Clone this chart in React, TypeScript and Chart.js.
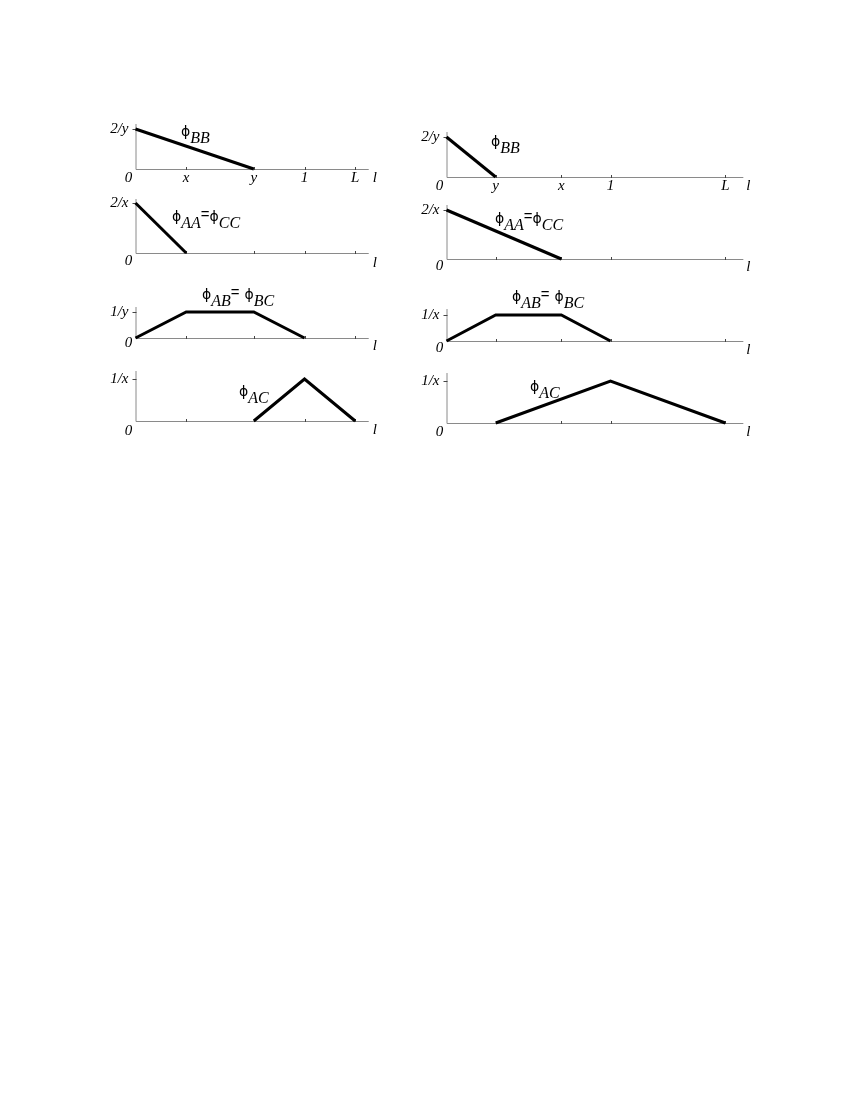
import React, { useEffect, useRef } from "react";
import { Chart, registerables } from "chart.js";

Chart.register(...registerables);

// ---------- data ----------
// Left column: 0 < x < y < 1 < L ; right column: 0 < y < x < 1 < L
const leftTickValues = [0, 0.3, 0.7, 1, 1.3];
const leftTickLabels = ["0", "x", "y", "1", "L"];
const rightTickValues = [0, 0.3, 0.7, 1, 1.7];
const rightTickLabels = ["0", "y", "x", "1", "L"];
const leftAxisEnd = 1.38;
const rightAxisEnd = 1.81;

// left column series
const leftBBx = [0, 0.7];
const leftBBy = [2.857, 0];
const leftAAx = [0, 0.3];
const leftAAy = [6.667, 0];
const leftABx = [0, 0.3, 0.7, 1];
const leftABy = [0, 1.429, 1.429, 0];
const leftACx = [0.7, 1, 1.3];
const leftACy = [0, 3.333, 0];

// right column series
const rightBBx = [0, 0.3];
const rightBBy = [6.667, 0];
const rightAAx = [0, 0.7];
const rightAAy = [2.857, 0];
const rightABx = [0, 0.3, 0.7, 1];
const rightABy = [0, 1.429, 1.429, 0];
const rightACx = [0.3, 1, 1.7];
const rightACy = [0, 1.429, 0];

// y tick (max) values and labels
const leftYTickValues = [2.857, 6.667, 1.429, 3.333];
const leftYTickLabels = ["2/y", "2/x", "1/y", "1/x"];
const rightYTickValues = [6.667, 2.857, 1.429, 1.429];
const rightYTickLabels = ["2/y", "2/x", "1/x", "1/x"];

// curve names (subscripts of phi)
const seriesNames = [["BB"], ["AA", "CC"], ["AB", "BC"], ["AC"]];

// ---------- layout ----------
type Col = { colLeft: number; colWidth: number; x0: number; unit: number; axisEnd: number; lDx: number };
const LEFT_COL: Col = { colLeft: 85, colWidth: 310, x0: 135.5, unit: 169, axisEnd: leftAxisEnd, lDx: 4 };
const RIGHT_COL: Col = { colLeft: 400, colWidth: 370, x0: 446.5, unit: 164, axisEnd: rightAxisEnd, lDx: 3 };

const leftBaselines = [169, 253, 338, 421];
const leftTickYs = [129, 203, 312, 379];
const leftTops = [124, 199, 307, 371];
const rightBaselines = [177, 259, 341, 423];
const rightTickYs = [137, 210, 315, 381];
const rightTops = [132, 205, 309, 373];

const leftZeroDy = [9, 8, 5, 10];
const leftLDy = [9, 10, 8, 9];
const rightZeroDy = [9, 7, 7, 9];
const rightLDy = [9, 8, 9, 9];

// label anchor: page x of first phi, page y of phi centre, gap before 2nd phi
const leftLabelPos = [
  [181, 132, 0],
  [172, 217, 0],
  [202, 295, 5],
  [239, 392, 0],
];
const rightLabelPos = [
  [491, 142, 0],
  [495, 219, 0],
  [512, 297, 5],
  [530, 387, 0],
];

type PanelProps = {
  col: Col;
  xs: number[];
  ys: number[];
  tickValues: number[];
  tickLabels: string[] | null;
  yTickValue: number;
  yTickLabel: string;
  baseline: number;
  tickY: number;
  top: number;
  zeroDy: number;
  lDy: number;
  names: string[];
  labelPos: number[];
};

const TICK_FONT = 'italic 15px "Liberation Serif", "DejaVu Serif", serif';
const PHI_FONT = '14px "DejaVu Sans", "Noto Sans", sans-serif';
const SUB_FONT = 'italic 16px "Liberation Serif", "DejaVu Serif", serif';
const EQ_FONT = '15px "Liberation Sans", "DejaVu Sans", sans-serif';

function Panel(p: PanelProps) {
  const ref = useRef<HTMLCanvasElement | null>(null);
  const padTop = 30;
  const padBottom = 30;
  const canvasTop = p.top - padTop;
  const canvasH = p.baseline - p.top + padTop + padBottom;
  const canvasW = p.col.colWidth;

  useEffect(() => {
    const canvas = ref.current;
    if (!canvas) return;
    const col = p.col;
    const xEndPx = col.x0 + col.axisEnd * col.unit;
    const padLeft = col.x0 - col.colLeft;
    const padRight = col.colLeft + col.colWidth - xEndPx;
    const yMax = (p.yTickValue * (p.baseline - p.top)) / (p.baseline - p.tickY);
    const ox = col.colLeft;
    const oy = canvasTop;

    const axisPlugin = {
      id: "axesAndLabels",
      beforeDatasetsDraw(chart: any) {
        const ctx = chart.ctx as CanvasRenderingContext2D;
        const xs = chart.scales.x;
        const ys = chart.scales.y;
        const X0 = xs.getPixelForValue(0);
        const XE = xs.getPixelForValue(col.axisEnd);
        const Y0 = ys.getPixelForValue(0);
        const YT = ys.getPixelForValue(yMax);
        const YK = ys.getPixelForValue(p.yTickValue);
        ctx.save();
        ctx.strokeStyle = "#8a8a8a";
        ctx.lineWidth = 1;
        ctx.beginPath();
        ctx.moveTo(X0 + 0.5, YT);
        ctx.lineTo(X0 + 0.5, Y0 + 0.5);
        ctx.lineTo(XE, Y0 + 0.5);
        ctx.stroke();
        // x ticks
        ctx.strokeStyle = "#444";
        ctx.beginPath();
        p.tickValues.forEach((v, i) => {
          if (i === 0) return;
          const px = Math.round(xs.getPixelForValue(v)) + 0.5;
          ctx.moveTo(px, Y0 - 2);
          ctx.lineTo(px, Y0 + 1);
        });
        // y tick
        const ty = Math.round(YK) + 0.5;
        ctx.moveTo(X0 - 3, ty);
        ctx.lineTo(X0 + 1, ty);
        ctx.stroke();

        // text
        ctx.fillStyle = "#000";
        ctx.font = TICK_FONT;
        ctx.textBaseline = "middle";
        ctx.textAlign = "center";
        ctx.fillText("0", X0 - 7, Y0 + p.zeroDy);
        if (p.tickLabels) {
          p.tickValues.forEach((v, i) => {
            if (i === 0) return;
            ctx.fillText(p.tickLabels![i], xs.getPixelForValue(v), Y0 + 9);
          });
        }
        ctx.textAlign = "left";
        ctx.fillText("l", XE + col.lDx, Y0 + p.lDy);
        ctx.textAlign = "right";
        ctx.fillText(p.yTickLabel, X0 - 7, YK);

        // phi label
        let lx = p.labelPos[0] - ox;
        const ly = p.labelPos[1] - oy;
        p.names.forEach((n, i) => {
          if (i > 0) {
            ctx.font = EQ_FONT;
            ctx.textAlign = "left";
            ctx.textBaseline = "middle";
            ctx.fillText("=", lx, ly - 2);
            lx += ctx.measureText("=").width + p.labelPos[2];
          }
          ctx.font = PHI_FONT;
          ctx.textAlign = "left";
          ctx.textBaseline = "middle";
          ctx.fillText("ϕ", lx, ly);
          lx += ctx.measureText("ϕ").width;
          ctx.font = SUB_FONT;
          ctx.textBaseline = "alphabetic";
          ctx.fillText(n, lx, ly + 11);
          lx += ctx.measureText(n).width;
        });
        ctx.restore();
      },
    };

    const chart = new Chart(canvas, {
      type: "line",
      data: {
        datasets: [
          {
            data: p.xs.map((x, i) => ({ x, y: p.ys[i] })),
            borderColor: "#000",
            borderWidth: 3,
            pointRadius: 0,
            tension: 0,
            borderJoinStyle: "miter",
            borderCapStyle: "butt",
            clip: false,
          } as any,
        ],
      },
      options: {
        responsive: false,
        animation: false,
        events: [],
        layout: { padding: { left: padLeft, right: padRight, top: padTop, bottom: padBottom } },
        plugins: { legend: { display: false }, tooltip: { enabled: false } },
        scales: {
          x: { type: "linear", min: 0, max: col.axisEnd, display: false },
          y: { type: "linear", min: 0, max: yMax, display: false },
        },
      },
      plugins: [axisPlugin],
    });
    return () => chart.destroy();
  }, []);

  return (
    <canvas
      ref={ref}
      width={canvasW}
      height={canvasH}
      style={{
        position: "absolute",
        left: p.col.colLeft,
        top: canvasTop,
        width: canvasW,
        height: canvasH,
      }}
    />
  );
}

export default function App() {
  const leftXs = [leftBBx, leftAAx, leftABx, leftACx];
  const leftYs = [leftBBy, leftAAy, leftABy, leftACy];
  const rightXs = [rightBBx, rightAAx, rightABx, rightACx];
  const rightYs = [rightBBy, rightAAy, rightABy, rightACy];
  return (
    <div style={{ position: "absolute", left: 0, top: 0, width: 850, height: 1100, background: "#fff" }}>
      {[0, 1, 2, 3].map((i) => (
        <Panel
          key={"l" + i}
          col={LEFT_COL}
          xs={leftXs[i]}
          ys={leftYs[i]}
          tickValues={leftTickValues}
          tickLabels={i === 0 ? leftTickLabels : null}
          yTickValue={leftYTickValues[i]}
          yTickLabel={leftYTickLabels[i]}
          baseline={leftBaselines[i]}
          tickY={leftTickYs[i]}
          top={leftTops[i]}
          zeroDy={leftZeroDy[i]}
          lDy={leftLDy[i]}
          names={seriesNames[i]}
          labelPos={leftLabelPos[i]}
        />
      ))}
      {[0, 1, 2, 3].map((i) => (
        <Panel
          key={"r" + i}
          col={RIGHT_COL}
          xs={rightXs[i]}
          ys={rightYs[i]}
          tickValues={rightTickValues}
          tickLabels={i === 0 ? rightTickLabels : null}
          yTickValue={rightYTickValues[i]}
          yTickLabel={rightYTickLabels[i]}
          baseline={rightBaselines[i]}
          tickY={rightTickYs[i]}
          top={rightTops[i]}
          zeroDy={rightZeroDy[i]}
          lDy={rightLDy[i]}
          names={seriesNames[i]}
          labelPos={rightLabelPos[i]}
        />
      ))}
    </div>
  );
}
